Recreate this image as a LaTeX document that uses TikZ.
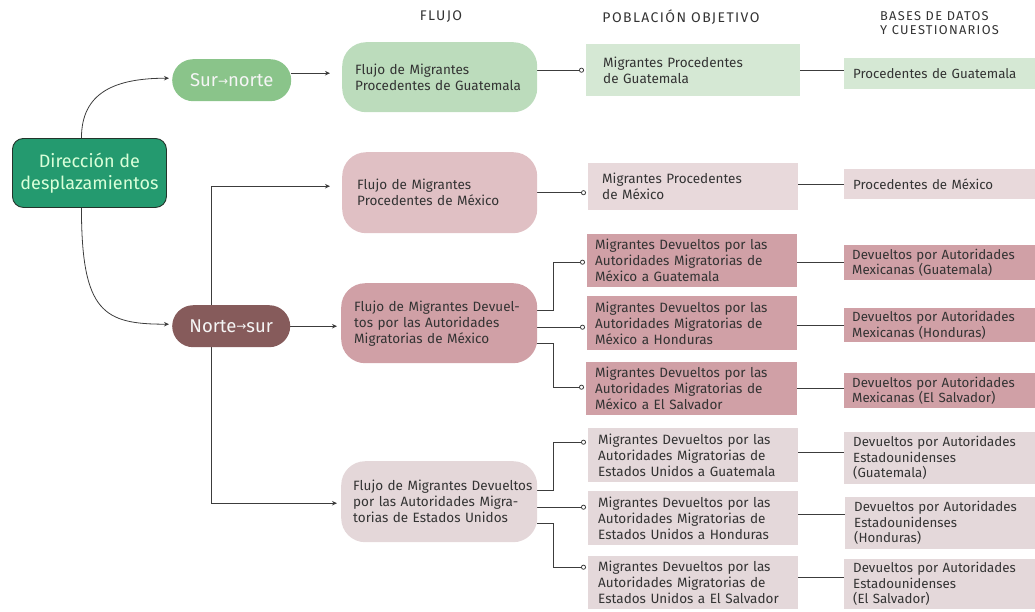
\documentclass[tikz,border=0pt]{standalone}
\usepackage{fontspec}
\setmainfont{Fira Sans}
\newfontfamily\arrfont{DejaVu Sans}
\newfontfamily\hdrfont[LetterSpace=10]{Fira Sans}
\usetikzlibrary{arrows.meta,calc,backgrounds}
\definecolor{txt}{HTML}{333333}
\definecolor{lncol}{HTML}{3C3C3C}
\definecolor{dirfill}{HTML}{249A6F}
\definecolor{dirline}{HTML}{23342B}
\definecolor{snfill}{HTML}{8AC48A}
\definecolor{nsfill}{HTML}{865B5B}
\definecolor{fA}{HTML}{BCDCBC}
\definecolor{fB}{HTML}{E0C0C4}
\definecolor{fC}{HTML}{D0A0A6}
\definecolor{fD}{HTML}{E4D7D9}
\definecolor{pA}{HTML}{D5E8D4}
\definecolor{pB}{HTML}{E8D9DB}
\definecolor{pC}{HTML}{D0A0A6}
\definecolor{pD}{HTML}{E4D8DA}
\newcommand\sarr{\raisebox{1.5pt}{\arrfont\fontsize{12}{12}\selectfont →}}
\tikzset{
  bx/.style={anchor=north west, inner sep=0pt, align=left, text=txt,
    font=\fontsize{13.5}{16}\selectfont},
  bsm/.style={bx, font=\fontsize{13.3}{15.5}\selectfont},
  flow/.style={bx, rounded corners=24pt},
  pill/.style={anchor=north west, inner sep=0pt, rounded corners=21pt,
    text=white!96!black, font=\fontsize{18.5}{22}\selectfont},
  hdr/.style={inner sep=0pt, text=txt, font=\hdrfont\fontsize{14}{15}\selectfont},
  arr/.style={draw=lncol, line width=0.8pt, -{Stealth[length=5pt,width=4.5pt]}},
  lnk/.style={draw=lncol, line width=0.8pt, -{Circle[open,length=5pt,width=5pt]}, shorten >=2pt},
  ln/.style={draw=lncol, line width=0.8pt}
}
\begin{document}
\begin{tikzpicture}[x=1pt,y=-1pt]
\useasboundingbox (0,0) rectangle (1035,611);

% headers
\node[hdr] (h1) at (441,17) {FLUJO};
\node[hdr] (h2) at (681,17) {POBLACIÓN OBJETIVO};
\node[hdr, anchor=north west, align=left, font=\hdrfont\fontsize{12.8}{14}\selectfont] (h3) at (880,11) {BASES DE DATOS\\Y CUESTIONARIOS};

% main nodes
\node[anchor=north west, inner sep=0pt, minimum width=154pt, minimum height=69pt,
  fill=dirfill, draw=dirline, line width=0.9pt, rounded corners=11pt, align=center,
  text=white!85!green, font=\fontsize{18}{22}\selectfont] (dir) at (12,138) {Dirección de\\desplazamientos};
\node[pill, fill=snfill, minimum width=119pt, minimum height=42pt] (sn) at (172,59) {Sur\sarr norte};
\node[pill, fill=nsfill, minimum width=118pt, minimum height=42pt] (ns) at (172,305) {Norte\sarr sur};

% flujo
\node[flow, fill=fA, minimum width=195pt, minimum height=70pt, text width=195pt] (f1) at (342,42)
  {\leftskip=13pt Flujo de Migrantes\\Procedentes de Guatemala\par};
\node[flow, fill=fB, minimum width=195pt, minimum height=81pt, text width=195pt] (f2) at (342,152)
  {\leftskip=15pt Flujo de Migrantes\\Procedentes de México\par};
\node[flow, fill=fC, minimum width=196pt, minimum height=80pt, text width=196pt] (f3) at (341,283)
  {\leftskip=13pt Flujo de Migrantes Devuel-\\tos por las Autoridades\\Migratorias de México\par};
\node[flow, fill=fD, minimum width=196pt, minimum height=81pt, text width=196pt] (f4) at (341,461)
  {\leftskip=12pt Flujo de Migrantes Devueltos\\por las Autoridades Migra-\\torias de Estados Unidos\par};

% poblacion
\node[bx, fill=pA, minimum width=214pt, minimum height=52pt, text width=214pt] (p1) at (586,44)
  {\leftskip=17pt Migrantes Procedentes\\de Guatemala\par};
\node[bx, fill=pB, minimum width=210pt, minimum height=47pt, text width=210pt] (p2) at (588,163)
  {\leftskip=14pt Migrantes Procedentes\\de México\par};
\node[bx, fill=pC, minimum width=210pt, minimum height=53pt, text width=210pt] (p3a) at (587,234)
  {\leftskip=8pt Migrantes Devueltos por las\\Autoridades Migratorias de\\México a Guatemala\par};
\node[bx, fill=pC, minimum width=210pt, minimum height=54pt, text width=210pt] (p3b) at (587,296)
  {\leftskip=8pt Migrantes Devueltos por las\\Autoridades Migratorias de\\México a Honduras\par};
\node[bx, fill=pC, minimum width=211pt, minimum height=53pt, text width=211pt] (p3c) at (586,362)
  {\leftskip=9pt Migrantes Devueltos por las\\Autoridades Migratorias de\\México a El Salvador\par};
\node[bx, fill=pD, minimum width=210pt, minimum height=54pt, text width=210pt] (p4a) at (588,428)
  {\leftskip=10pt Migrantes Devueltos por las\\Autoridades Migratorias de\\Estados Unidos a Guatemala\par};
\node[bx, fill=pD, minimum width=210pt, minimum height=54pt, text width=210pt] (p4b) at (588,491)
  {\leftskip=10pt Migrantes Devueltos por las\\Autoridades Migratorias de\\Estados Unidos a Honduras\par};
\node[bx, fill=pD, minimum width=210pt, minimum height=53pt, text width=210pt] (p4c) at (588,556)
  {\leftskip=10pt Migrantes Devueltos por las\\Autoridades Migratorias de\\Estados Unidos a El Salvador\par};

% bases
\node[bsm, fill=pA, minimum width=191pt, minimum height=31pt, text width=191pt] (b1) at (844,58)
  {\leftskip=9pt Procedentes de Guatemala\par};
\node[bsm, fill=pB, minimum width=191pt, minimum height=30pt, text width=191pt] (b2) at (844,169)
  {\leftskip=9pt Procedentes de México\par};
\node[bsm, fill=pC, minimum width=191pt, minimum height=35pt, text width=191pt] (b3a) at (844,245)
  {\leftskip=8pt Devueltos por Autoridades\\Mexicanas (Guatemala)\par};
\node[bsm, fill=pC, minimum width=191pt, minimum height=34pt, text width=191pt] (b3b) at (844,308)
  {\leftskip=8pt Devueltos por Autoridades\\Mexicanas (Honduras)\par};
\node[bsm, fill=pC, minimum width=191pt, minimum height=35pt, text width=191pt] (b3c) at (844,373)
  {\leftskip=8pt Devueltos por Autoridades\\Mexicanas (El Salvador)\par};
\node[bsm, fill=pD, minimum width=191pt, minimum height=52pt, text width=191pt] (b4a) at (844,432)
  {\leftskip=9pt Devueltos por Autoridades\\Estadounidenses\\(Guatemala)\par};
\node[bsm, fill=pD, minimum width=190pt, minimum height=52pt, text width=190pt] (b4b) at (845,497)
  {\leftskip=9pt Devueltos por Autoridades\\Estadounidenses\\(Honduras)\par};
\node[bsm, fill=pD, minimum width=191pt, minimum height=50pt, text width=191pt] (b4c) at (844,559)
  {\leftskip=9pt Devueltos por Autoridades\\Estadounidenses\\(El Salvador)\par};

% helper coordinates
\coordinate (dN) at ($(dir.north)+(-8,0)$);
\coordinate (dS) at ($(dir.south)+(-8,0)$);
\coordinate (snE) at ($(sn.east)+(0,-7)$);
\coordinate (f1in) at ($(f1.west)+(-12,-4)$);
\coordinate (nsN) at ($(ns.north)+(-20,0)$);
\coordinate (nsS) at ($(ns.south)+(-20,0)$);
\coordinate (f2in) at ($(f2.west)+(-12,-6.5)$);
\coordinate (f4in) at ($(f4.west)+(-4,1.5)$);
\coordinate (f1o) at ($(f1.east)+(0,-7)$);
\coordinate (f3a) at ($(f3.east)+(0,-13)$);
\coordinate (f3b) at ($(f3.east)+(0,4)$);
\coordinate (f3c) at ($(f3.east)+(0,20)$);
\coordinate (f4a) at ($(f4.east)+(0,-11.5)$);
\coordinate (f4b) at ($(f4.east)+(0,5.5)$);
\coordinate (f4c) at ($(f4.east)+(0,21.5)$);
\coordinate (p3ai) at ($(p3a.west)+(0,1.5)$);
\coordinate (p3ci) at ($(p3c.west)+(0,-1.5)$);
\coordinate (p4ai) at ($(p4a.west)+(0,-13)$);
\coordinate (p4ci) at ($(p4c.west)+(0,-15.5)$);
\coordinate (p4ao) at ($(p4a.east)+(0,-3)$);
\coordinate (p4bo) at ($(p4b.east)+(0,-4)$);
\coordinate (p4co) at ($(p4c.east)+(0,-5)$);

\begin{scope}[on background layer]
\draw[arr] (dN) .. controls +(0,-45) and +(-55,0) .. ($(sn.west)+(-3,-2)$);
\draw[arr] (dS) .. controls +(0,105) and +(-65,0) .. ($(ns.west)+(-3,-2)$);
\draw[arr] (snE) -- (f1in);
\draw[arr, shorten >=4pt] (ns.east) -- (ns.east -| f3.west);
\draw[arr] (nsN) |- (f2in);
\draw[arr] (nsS) |- (f4in);

\draw[lnk] (f1o) -- (p1.west);
\draw[lnk] (f2.east) -- (f2.east -| p2.west);
\draw[lnk] (f3a) -- ++(16,0) |- (p3ai);
\draw[lnk] (f3b) -- (f3b -| p3b.west);
\draw[lnk] (f3c) -- ++(16,0) |- (p3ci);
\draw[lnk] (f4a) -- ++(16,0) |- (p4ai);
\draw[lnk] (f4b) -- (f4b -| p4b.west);
\draw[lnk] (f4c) -- ++(16,0) |- (p4ci);

\draw[ln] (p1.east) -- (p1.east -| b1.west);
\draw[ln] (b2.west -| p2.east) -- (b2.west);
\draw[ln] (b3a.west -| p3a.east) -- (b3a.west);
\draw[ln] (b3b.west -| p3b.east) -- (b3b.west);
\draw[ln] (p3c.east) -- (p3c.east -| b3c.west);
\draw[ln] (p4ao) -- (p4ao -| b4a.west);
\draw[ln] (p4bo) -- (p4bo -| b4b.west);
\draw[ln] (p4co) -- (p4co -| b4c.west);
\end{scope}
\end{tikzpicture}
\end{document}
